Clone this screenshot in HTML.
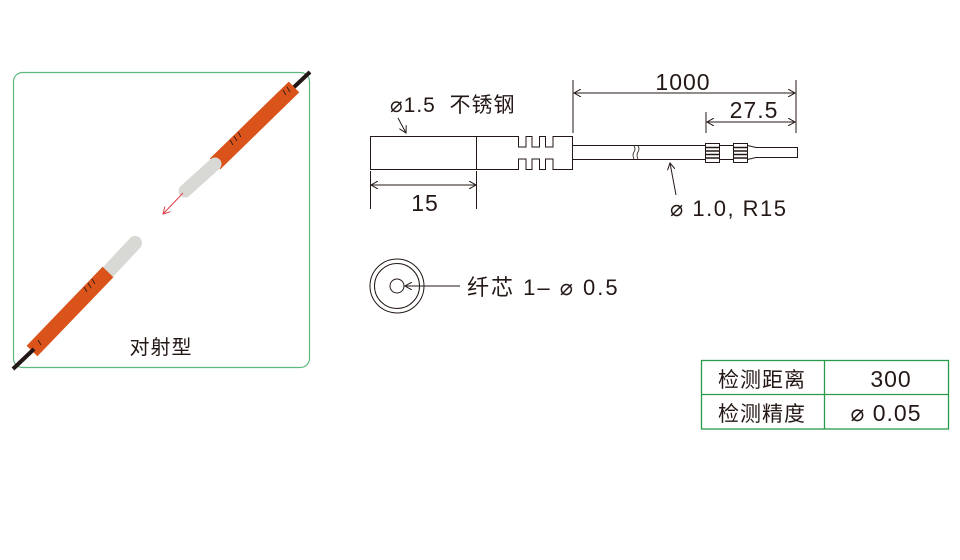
<!DOCTYPE html>
<html><head><meta charset="utf-8"><style>
html,body{margin:0;padding:0;background:#fff;}
svg{display:block;}
text{font-family:"Liberation Sans","Noto Sans CJK SC",sans-serif;fill:#231815;white-space:pre;}
</style></head><body>
<svg width="960" height="560" viewBox="0 0 960 560" xmlns="http://www.w3.org/2000/svg">
<defs>
<marker id="ar" markerWidth="8" markerHeight="8" refX="7" refY="4" orient="auto" markerUnits="userSpaceOnUse"><path d="M0,0 L7,4 L0,8" fill="none" stroke="#231815" stroke-width="1"/></marker>
<marker id="arr" markerWidth="8" markerHeight="8" refX="7" refY="4" orient="auto" markerUnits="userSpaceOnUse"><path d="M0,0 L7,4 L0,8" fill="none" stroke="#e0404a" stroke-width="1"/></marker>
</defs>
<rect x="13.5" y="72.5" width="296" height="295" rx="9" fill="none" stroke="#5cb87c" stroke-width="1.2"/>
<g stroke-linecap="butt">
<line x1="310" y1="72" x2="292" y2="89" stroke="#231815" stroke-width="4"/>
<line x1="294" y1="87" x2="215" y2="164" stroke="#d9531a" stroke-width="15"/>
<line x1="215" y1="164" x2="185" y2="191" stroke="#d8d8d4" stroke-width="13" stroke-linecap="round"/>
<line x1="183" y1="193" x2="163" y2="214" stroke="#e0404a" stroke-width="1" marker-end="url(#arr)"/>
<line x1="135" y1="243" x2="108" y2="272" stroke="#d8d8d4" stroke-width="14" stroke-linecap="round"/>
<line x1="108" y1="272" x2="32" y2="351" stroke="#d9531a" stroke-width="15"/>
<line x1="34" y1="349" x2="13" y2="369" stroke="#231815" stroke-width="4"/>
</g>
<g stroke="#231815" stroke-width="0.8" fill="none">
<path d="M283,90 l3,5 M287,87 l3,5 M230,140 l3,5 M234,136 l3,5 M238,132 l3,5 M84,287 l3,5 M88,283 l3,5 M92,279 l3,5 M38,340 l3,5"/>
</g>
<text x="161" y="354" font-size="20" text-anchor="middle" letter-spacing="1">对射型</text>
<g fill="none" stroke="#231815" stroke-width="1">
<rect x="370.5" y="136.5" width="106" height="33"/>
<path d="M476.5,136.5 H518.5 V147 H526 V136.5 H532 V147 H539.5 V136.5 H545.5 V147 H553 V136.5 H572.5 V169.5 H553 V159 H545.5 V169.5 H539.5 V159 H532 V169.5 H526 V159 H518.5 V169.5 H476.5"/>
<path d="M572.5,145.5 H705 M572.5,159.5 H705 M720,145.5 H733 M720,159.5 H733"/>
<path d="M634,146 q2,3 0,6 q-2,3 0,7 M638,146 q2,3 0,6 q-2,3 0,7" stroke-width="0.8"/>
<rect x="705.5" y="143.5" width="14" height="19" fill="#fff"/>
<rect x="733.5" y="143.5" width="14" height="19" fill="#fff"/>
<path d="M706,147.5 H719 M706,151 H719 M706,154.5 H719 M706,158 H719 M734,147.5 H747 M734,151 H747 M734,154.5 H747 M734,158 H747" stroke-width="1.5"/>
<path d="M747.5,145.5 L756,147.5 H797.5 V157.5 H756 L747.5,159.5"/>
<path d="M573,80 V133 M796,80 V133 M706,112 V133 M370.5,171 V209 M476.5,171 V209"/>
<line x1="575" y1="93" x2="795" y2="93" marker-end="url(#ar)"/>
<line x1="794" y1="93" x2="574" y2="93" marker-end="url(#ar)"/>
<line x1="708" y1="122" x2="795" y2="122" marker-end="url(#ar)"/>
<line x1="794" y1="122" x2="707" y2="122" marker-end="url(#ar)"/>
<line x1="372" y1="185" x2="476" y2="185" marker-end="url(#ar)"/>
<line x1="475" y1="185" x2="371" y2="185" marker-end="url(#ar)"/>
<line x1="398" y1="118" x2="406" y2="133" marker-end="url(#ar)"/>
<line x1="676" y1="195" x2="670" y2="163" marker-end="url(#ar)"/>
<circle cx="397" cy="286" r="27"/>
<circle cx="397" cy="286" r="22.5"/>
<circle cx="397" cy="286" r="7"/>
<line x1="460" y1="286" x2="405" y2="286" marker-end="url(#ar)"/>
</g>
<text x="390" y="112" font-size="21" letter-spacing="1">⌀1.5  不锈钢</text>
<text x="683" y="90" font-size="23" text-anchor="middle" letter-spacing="1">1000</text>
<text x="754" y="118" font-size="23" text-anchor="middle" letter-spacing="1">27.5</text>
<text x="425" y="211" font-size="23" text-anchor="middle" letter-spacing="1">15</text>
<text x="670" y="216" font-size="22" letter-spacing="1.5">⌀ 1.0, R15</text>
<text x="467" y="295" font-size="22" letter-spacing="2">纤芯 1– ⌀ 0.5</text>
<g fill="none" stroke="#2a9a4a" stroke-width="1.3">
<rect x="701.5" y="360.5" width="247" height="68.5"/>
<line x1="701" y1="394.5" x2="949" y2="394.5"/>
<line x1="824.5" y1="360" x2="824.5" y2="429"/>
</g>
<text x="762" y="387" font-size="21" text-anchor="middle" letter-spacing="1">检测距离</text>
<text x="762" y="421" font-size="21" text-anchor="middle" letter-spacing="1">检测精度</text>
<text x="891" y="387" font-size="23" text-anchor="middle" letter-spacing="1">300</text>
<text x="886" y="421" font-size="23" text-anchor="middle" letter-spacing="1">⌀ 0.05</text>
</svg>
</body></html>
